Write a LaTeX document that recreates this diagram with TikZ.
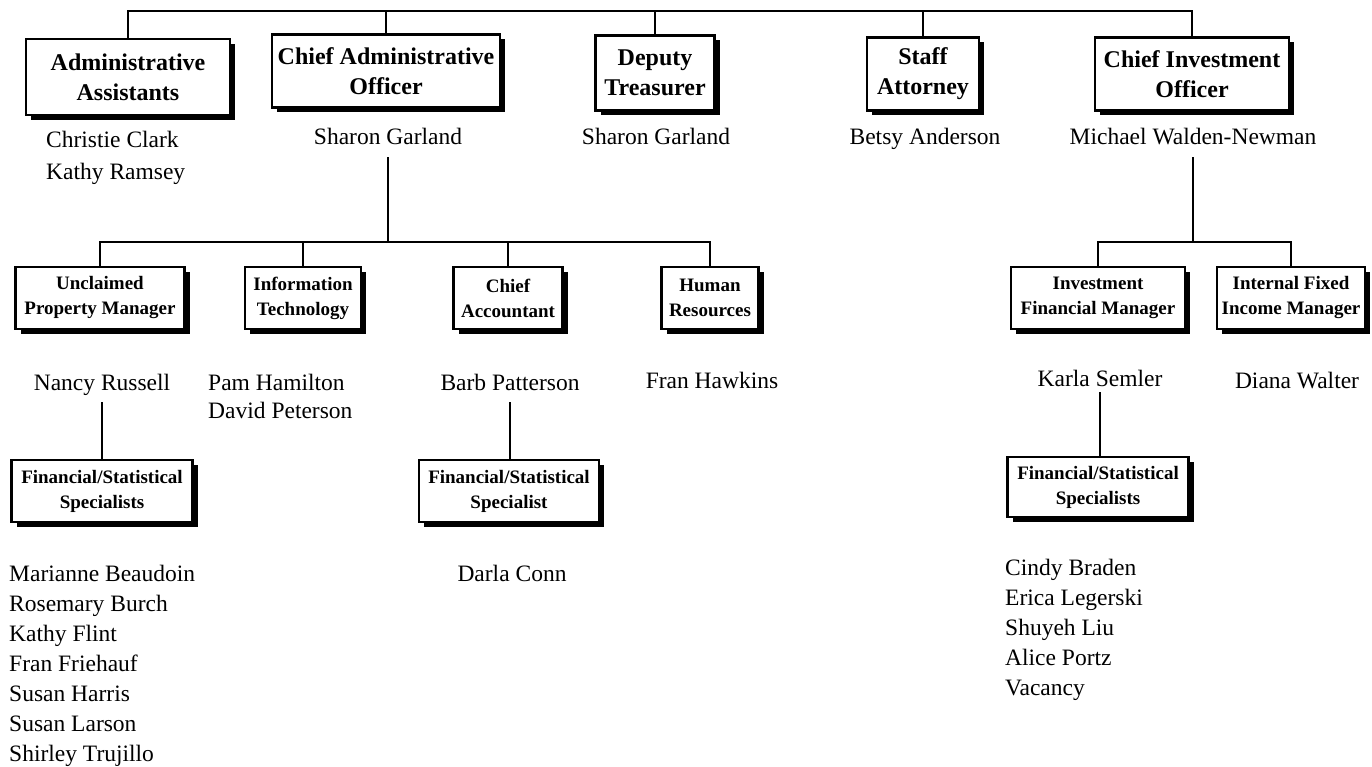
\documentclass[tikz,border=0pt]{standalone}
\usepackage{fontspec}
\setmainfont{Liberation Serif}
\usetikzlibrary{shadows}

\tikzset{
  post/.style={draw, line width=2.8pt, fill=white, align=center, inner sep=0pt,
    drop shadow={shadow xshift=5pt, shadow yshift=-5pt, fill=black, opacity=1}},
  toppost/.style={post, font=\bfseries\fontsize{24}{30}\selectfont},
  midpost/.style={post, font=\bfseries\fontsize{19}{25}\selectfont},
  person/.style={font=\fontsize{23.5}{30}\selectfont, inner sep=1pt, text height=16pt, text depth=5pt},
  staff/.style={font=\fontsize{23.5}{30}\selectfont, inner sep=1pt, align=left, anchor=west},
  conn/.style={line width=2.8pt}
}

\begin{document}
\begin{tikzpicture}[x=1pt, y=-1pt]
\useasboundingbox (0,0) rectangle (1372,767);

% top row
\node[toppost, minimum width=204pt, minimum height=76pt] (aa) at (128,77) {Administrative\\Assistants};
\node[toppost, minimum width=228pt, minimum height=73pt] (cao) at (386,71) {Chief Administrative\\Officer};
\node[toppost, minimum width=119pt, minimum height=75pt] (dt) at (655,73) {Deputy\\Treasurer};
\node[toppost, minimum width=112pt, minimum height=73pt] (sa) at (923,74) {Staff\\Attorney};
\node[toppost, minimum width=194pt, minimum height=73pt] (cio) at (1192,74) {Chief Investment\\Officer};

\node[staff, font=\fontsize{23.5}{32}\selectfont] (aanames) at (45,158) {Christie Clark\\Kathy Ramsey};
\node[person] (sgcao) at (388,139.5) {Sharon Garland};
\node[person] (sgdt) at (656,139.5) {Sharon Garland};
\node[person] (betsy) at (925,139.5) {Betsy Anderson};
\node[person] (mwn) at (1193,139.5) {Michael Walden-Newman};

% second row
\node[midpost, minimum width=169pt, minimum height=62pt] (upm) at (100,298) {Unclaimed\\Property Manager};
\node[midpost, minimum width=116pt, minimum height=62pt] (it) at (303,298) {Information\\Technology};
\node[midpost, minimum width=109pt, minimum height=62pt] (ca) at (508,298) {Chief\\Accountant};
\node[midpost, minimum width=97pt, minimum height=62pt] (hr) at (710,298) {Human\\Resources};
\node[midpost, minimum width=174pt, minimum height=62pt] (ifm) at (1098,298) {Investment\\Financial Manager};
\node[midpost, minimum width=148pt, minimum height=62pt] (ifim) at (1291,298) {Internal Fixed\\Income Manager};

\node[person] (nancy) at (102,384.5) {Nancy Russell};
\node[staff, font=\fontsize{23.5}{28}\selectfont] (itnames) at (207,396) {Pam Hamilton\\David Peterson};
\node[person] (barb) at (510,384.5) {Barb Patterson};
\node[person] (fran) at (712,382.5) {Fran Hawkins};
\node[person] (karla) at (1100,380.5) {Karla Semler};
\node[person] (diana) at (1297,382.5) {Diana Walter};

% specialists
\node[midpost, minimum width=181pt, minimum height=62pt] (fssa) at (102,491) {Financial/Statistical\\Specialists};
\node[midpost, minimum width=180pt, minimum height=62pt] (fssb) at (509,491) {Financial/Statistical\\Specialist};
\node[midpost, minimum width=181pt, minimum height=60pt] (fssc) at (1098,487) {Financial/Statistical\\Specialists};

\node[staff] (fssanames) at (8,666) {Marianne Beaudoin\\Rosemary Burch\\Kathy Flint\\Fran Friehauf\\Susan Harris\\Susan Larson\\Shirley Trujillo};
\node[person] (darla) at (512,575.5) {Darla Conn};
\node[staff] (fsscnames) at (1004,630) {Cindy Braden\\Erica Legerski\\Shuyeh Liu\\Alice Portz\\Vacancy};

% connectors
\coordinate (bus) at (0,11);
\coordinate (busb) at (0,242);
\draw[conn] (aa.north) |- (bus -| cio.north) -- (cio.north);
\foreach \n in {cao,dt,sa} \draw[conn] (\n.north) -- (\n.north |- bus);
\draw[conn] ([yshift=-6pt]sgcao.south) -- (sgcao.south |- busb);
\draw[conn] (upm.north) |- (busb -| hr.north) -- (hr.north);
\foreach \n in {it,ca} \draw[conn] (\n.north) -- (\n.north |- busb);
\draw[conn] ([yshift=-6pt]mwn.south) -- (mwn.south |- busb);
\draw[conn] (ifm.north) |- (busb -| ifim.north) -- (ifim.north);
\draw[conn] ([yshift=-6pt]nancy.south) -- (nancy.south |- fssa.north);
\draw[conn] ([yshift=-6pt]barb.south) -- (barb.south |- fssb.north);
\draw[conn] (karla.south) -- (karla.south |- fssc.north);

\end{tikzpicture}
\end{document}
